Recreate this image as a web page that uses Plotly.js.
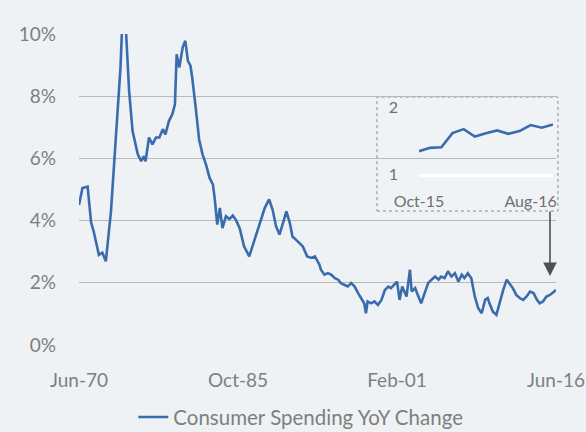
<!DOCTYPE html>
<html>
<head>
<meta charset="utf-8">
<script src="https://cdn.plot.ly/plotly-3.0.1.min.js"></script>
<style>
html,body{margin:0;padding:0;background:#eef2f4;}
#chart{width:586px;height:432px;}
</style>
</head>
<body>
<div id="chart"></div>
<script>
// Main series: consumer spending YoY change (%)
const dates = ["1970-06","1970-10","1971-04","1971-08","1971-11","1972-05","1972-09","1973-01","1973-07","1974-01",
"1974-06","1974-08","1974-12","1975-04","1975-08","1976-02","1976-06","1976-09","1976-11","1977-03",
"1977-07","1977-11","1978-03","1978-07","1978-10","1979-02","1979-06","1979-09","1979-11","1980-02",
"1980-06","1980-09","1980-12","1981-03","1981-05","1981-09","1982-01","1982-05","1982-09","1983-01",
"1983-05","1983-07","1983-10","1984-01","1984-04","1984-08","1984-12","1985-04","1985-08","1985-12",
"1986-05","1986-11","1987-05","1987-11","1988-05","1988-10","1989-02","1989-06","1989-10","1990-02",
"1990-06","1990-10","1991-01","1991-05","1991-09","1992-01","1992-06","1992-11","1993-03","1993-08",
"1993-10","1994-02","1994-06","1994-10","1995-02","1995-06","1995-09","1996-01","1996-05","1996-09",
"1997-01","1997-05","1997-09","1997-12","1998-02","1998-04","1998-08","1998-12","1999-04","1999-08",
"1999-12","2000-04","2000-07","2000-11","2001-02","2001-05","2001-08","2002-01","2002-05","2002-07",
"2002-11","2003-02","2003-06","2003-10","2004-02","2004-06","2004-10","2005-02","2005-05","2005-09",
"2006-01","2006-05","2006-09","2007-01","2007-05","2007-08","2007-12","2008-04","2008-08","2008-12",
"2009-04","2009-08","2009-11","2010-01","2010-05","2010-09","2011-01","2011-05","2011-09","2012-01",
"2012-04","2012-08","2012-12","2013-04","2013-08","2013-12","2014-04","2014-08","2014-11","2015-03",
"2015-07","2015-11","2016-03","2016-06"];
const values = [4.5,5.05,5.09,3.94,3.65,2.9,2.97,2.69,4.3,6.67,
8.92,10.3,10.3,8.17,6.88,6.13,5.91,6.07,5.91,6.67,
6.45,6.67,6.67,6.94,6.77,7.2,7.42,7.74,9.35,8.92,
9.57,9.78,9.14,8.98,8.6,7.64,6.6,6.13,5.8,5.38,
5.16,4.73,3.87,4.41,3.76,4.14,4.05,4.16,4.0,3.75,
3.17,2.85,3.39,3.92,4.41,4.68,4.35,3.82,3.55,3.92,
4.3,3.92,3.49,3.39,3.28,3.17,2.85,2.8,2.85,2.6,
2.42,2.26,2.31,2.26,2.15,2.1,1.99,1.94,1.88,1.99,
1.88,1.67,1.45,1.34,1.02,1.4,1.34,1.4,1.29,1.45,
1.77,1.88,1.83,1.94,2.04,1.45,1.88,1.56,2.42,1.72,
1.83,1.61,1.34,1.67,1.99,2.1,2.2,2.1,2.2,2.15,
2.37,2.2,2.31,2.04,2.26,2.15,2.31,2.15,1.56,1.18,
1.02,1.45,1.51,1.34,1.07,0.97,1.4,1.77,2.1,1.94,
1.83,1.61,1.51,1.45,1.56,1.72,1.67,1.45,1.34,1.4,
1.56,1.61,1.72,1.77];
const xTickVals = ["1970-06","1985-10","2001-02","2016-06"];
const xTickText = ["Jun-70","Oct-85","Feb-01","Jun-16"];
const yTickVals = [0,2,4,6,8,10];
const yTickText = ["0%","2%","4%","6%","8%","10%"];

// Inset series (recent months)
const insetMonths = ["Oct-15","Nov-15","Dec-15","Jan-16","Feb-16","Mar-16","Apr-16","May-16","Jun-16","Jul-16","Aug-16","Sep-16","Oct-16"];
const insetValues = [1.34,1.39,1.40,1.61,1.67,1.56,1.61,1.65,1.60,1.64,1.73,1.69,1.74];
const insetTickVals = ["Oct-15","Aug-16"];
const insetYTicks = [1,2];

const seriesName = "Consumer Spending YoY Change";
const lineColor = "#3a6cad";
const gray = "#7f7f7f";
const font = "Lato, 'Open Sans', sans-serif";

const traces = [
  {x: dates, y: values, type: "scatter", mode: "lines", name: seriesName,
   line: {color: lineColor, width: 2.6}, xaxis: "x", yaxis: "y"},
  {x: insetMonths, y: insetValues, type: "scatter", mode: "lines", showlegend: false,
   line: {color: lineColor, width: 2.6}, xaxis: "x2", yaxis: "y2"}
];

const layout = {
  width: 586, height: 432,
  paper_bgcolor: "#eef2f4", plot_bgcolor: "rgba(0,0,0,0)",
  margin: {l: 79, r: 30, t: 34, b: 87, autoexpand: false},
  font: {family: font, color: gray, size: 19},
  showlegend: true,
  legend: {orientation: "h", x: 0.465, xanchor: "center", y: -0.232, yanchor: "middle",
           font: {size: 20.5, color: gray, family: font}, bgcolor: "rgba(0,0,0,0)"},
  xaxis: {type: "date", range: ["1970-06-01", "2016-06-01"], tickvals: xTickVals, ticktext: xTickText,
          showgrid: false, zeroline: false, showline: false, ticks: "", ticklabelstandoff: 22,
          tickfont: {size: 19, color: gray}},
  yaxis: {range: [0, 10], tickvals: yTickVals, ticktext: yTickText, showgrid: true, gridcolor: "#b9b9b9",
          gridwidth: 1.2, zeroline: true, zerolinecolor: "#eef2f4", zerolinewidth: 2, showline: false,
          ticks: "", ticklabelstandoff: 22, tickfont: {size: 19, color: gray}},
  xaxis2: {type: "category", domain: [0.7128, 0.9937], anchor: "y2", range: [0, 12],
           tickvals: insetTickVals, ticktext: insetTickVals, showgrid: false, zeroline: false,
           showline: true, linecolor: "#ffffff", linewidth: 2.5, ticks: "", ticklabelstandoff: 11,
           tickfont: {size: 16, color: "#6f6f6f"}},
  yaxis2: {domain: [0.5498, 0.7653], anchor: "x2", range: [1, 2], tickvals: insetYTicks,
           showgrid: true, gridcolor: "#b3b3b3", gridwidth: 1.2, zeroline: false, showline: false,
           ticks: "", ticklabelstandoff: 20, tickfont: {size: 16, color: "#6f6f6f"}},
  shapes: [
    {type: "rect", xref: "paper", yref: "paper", x0: 0.6247, x1: 1.004, y0: 0.4309, y1: 0.7974,
     line: {color: "#8a8a8a", width: 1, dash: "dot"}, fillcolor: "#f0f3f5", layer: "below"}
  ],
  annotations: [
    {xref: "paper", yref: "paper", x: 0.9874, y: 0.2219, text: "", showarrow: true,
     ax: 0, ay: -66, arrowhead: 2, arrowsize: 1.7, arrowwidth: 1.6, arrowcolor: "#505050"}
  ]
};

Plotly.newPlot("chart", traces, layout, {displayModeBar: false, staticPlot: true});
</script>
</body>
</html>
